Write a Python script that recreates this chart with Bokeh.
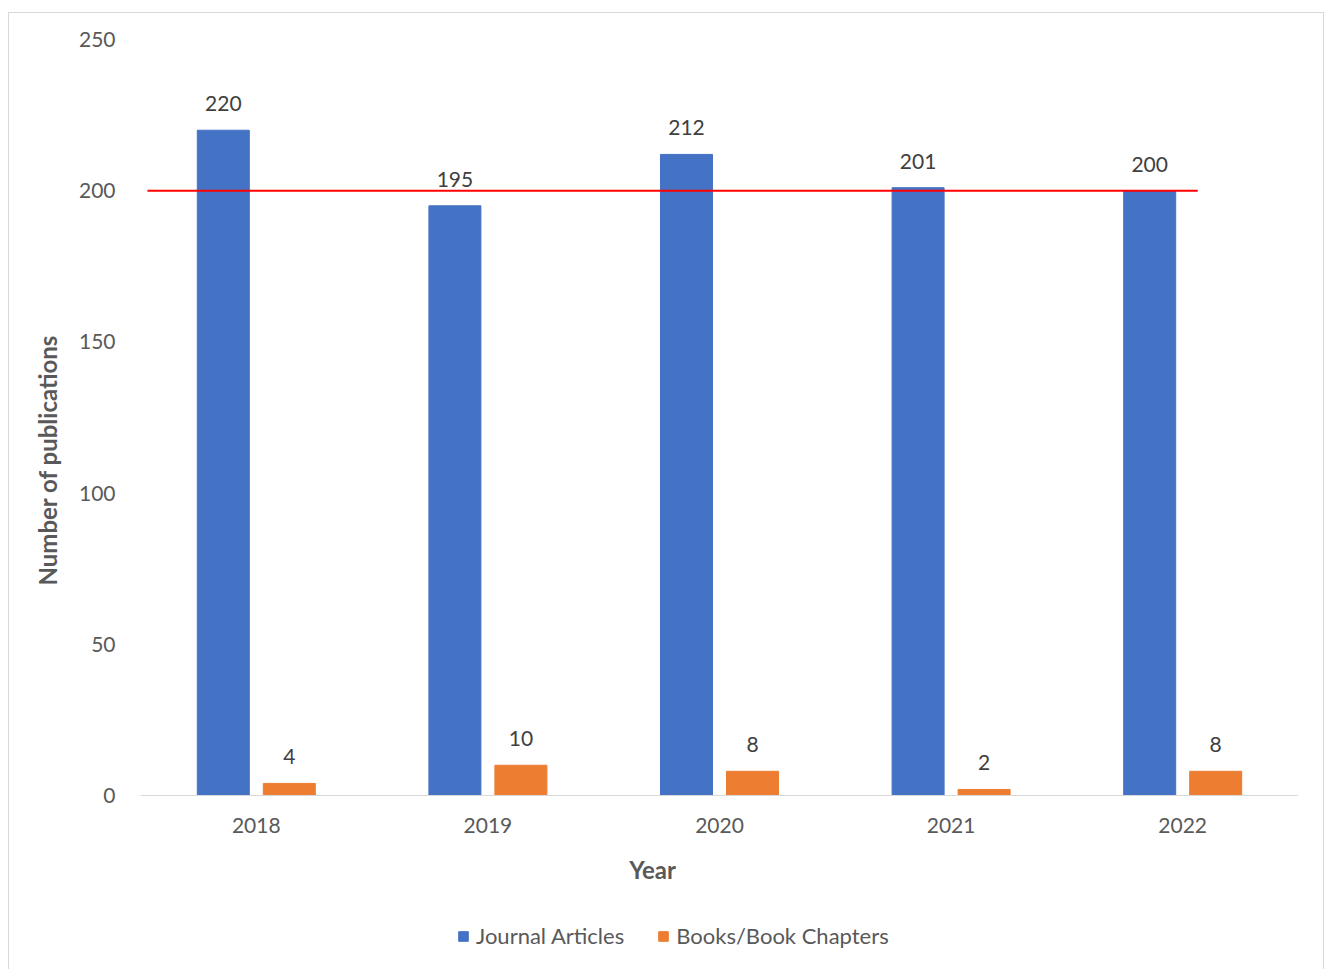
from bokeh.plotting import figure
from bokeh.models import ColumnDataSource, FixedTicker, Range1d, Legend, LegendItem, Title
from bokeh.transform import dodge
from bokeh.core.properties import value
from bokeh.embed import file_html
from bokeh.resources import INLINE

years = ["2018", "2019", "2020", "2021", "2022"]
journal_articles = [220, 195, 212, 201, 200]
book_chapters = [4, 10, 8, 2, 8]
target = 200
y_ticks = [0, 50, 100, 150, 200, 250]

FONT = "Lato"
GREY = "#595959"

# layout: value area is 756 px tall; the frame continues below it to hold
# the category labels, axis title and legend
PLOT_H = 756
FRAME_H = 933
y_max = 250
y_min = -y_max * (FRAME_H - PLOT_H) / PLOT_H

pos = [i + 0.5 for i in range(len(years))]
src = ColumnDataSource(dict(
    x=pos,
    ja=journal_articles,
    bc=book_chapters,
    ja_lbl=[str(v) for v in journal_articles],
    bc_lbl=[str(v) for v in book_chapters],
))

p = figure(frame_width=1158, frame_height=FRAME_H, output_backend="svg", toolbar_location=None,
           x_range=Range1d(0, len(years)), y_range=Range1d(y_min, y_max),
           min_border_left=131, min_border_right=25, min_border_top=26,
           min_border_bottom=0)
p.margin = (12, 5, 0, 8)
p.styles = {"border": "1px solid #d9d9d9"}
p.outline_line_color = None
p.grid.visible = False

bw = 0.2245
off = 0.1425
r1 = p.vbar(x=dodge("x", -off), top="ja", width=bw, source=src,
            fill_color="#4472C4", line_color="#4472C4")
r2 = p.vbar(x=dodge("x", off), top="bc", width=bw, source=src,
            fill_color="#ED7D31", line_color="#ED7D31")

p.text(x=dodge("x", -off), y="ja", text="ja_lbl", source=src,
       text_align="center", text_baseline="bottom", y_offset=-19,
       text_font=value(FONT), text_font_size="21px", text_color="#404040")
p.text(x=dodge("x", off), y="bc", text="bc_lbl", source=src,
       text_align="center", text_baseline="bottom", y_offset=-19,
       text_font=value(FONT), text_font_size="21px", text_color="#404040")

p.segment(x0=[0.03], x1=[4.565], y0=[target], y1=[target],
          line_color="#FF0000", line_width=2)

# x axis, drawn at value 0
p.xaxis.fixed_location = 0
p.xaxis.ticker = FixedTicker(ticks=pos)
p.xaxis.major_label_overrides = {x: y for x, y in zip(pos, years)}
p.xaxis.axis_line_color = "#d9d9d9"
p.xaxis.major_tick_line_color = None
p.xaxis.minor_tick_line_color = None
p.xaxis.major_label_standoff = 16

# y axis
p.yaxis.ticker = FixedTicker(ticks=y_ticks)
p.yaxis.axis_line_color = None
p.yaxis.major_tick_line_color = None
p.yaxis.minor_tick_line_color = None
p.yaxis.major_label_standoff = 19

for ax in (p.xaxis, p.yaxis):
    ax.major_label_text_font = FONT
    ax.major_label_text_font_size = "21px"
    ax.major_label_text_color = GREY

# x-axis title "Year" (Excel centres it on the chart area, not the plot area)
p.text(x=[2.211], y=[0], text=["Year"], text_align="center", text_baseline="middle",
       y_offset=74, text_font=value(FONT), text_font_size="24px",
       text_font_style="bold", text_color=GREY)

yt = Title(text="Number of publications", align="left", offset=387, standoff=27,
           text_font=FONT, text_font_size="24px", text_font_style="bold",
           text_color=GREY)
p.add_layout(yt, "left")

legend = Legend(items=[LegendItem(label="Journal Articles", renderers=[r1]),
                       LegendItem(label="Books/Book Chapters", renderers=[r2])],
                orientation="horizontal", location=(317, 23),
                label_text_font=FONT, label_text_font_size="22px",
                label_text_color=GREY, glyph_width=12, glyph_height=12,
                spacing=33, label_standoff=7, border_line_color=None,
                background_fill_alpha=0, margin=0, padding=0)
p.add_layout(legend, "center")

open("out.html", "w").write(file_html(p, INLINE))
